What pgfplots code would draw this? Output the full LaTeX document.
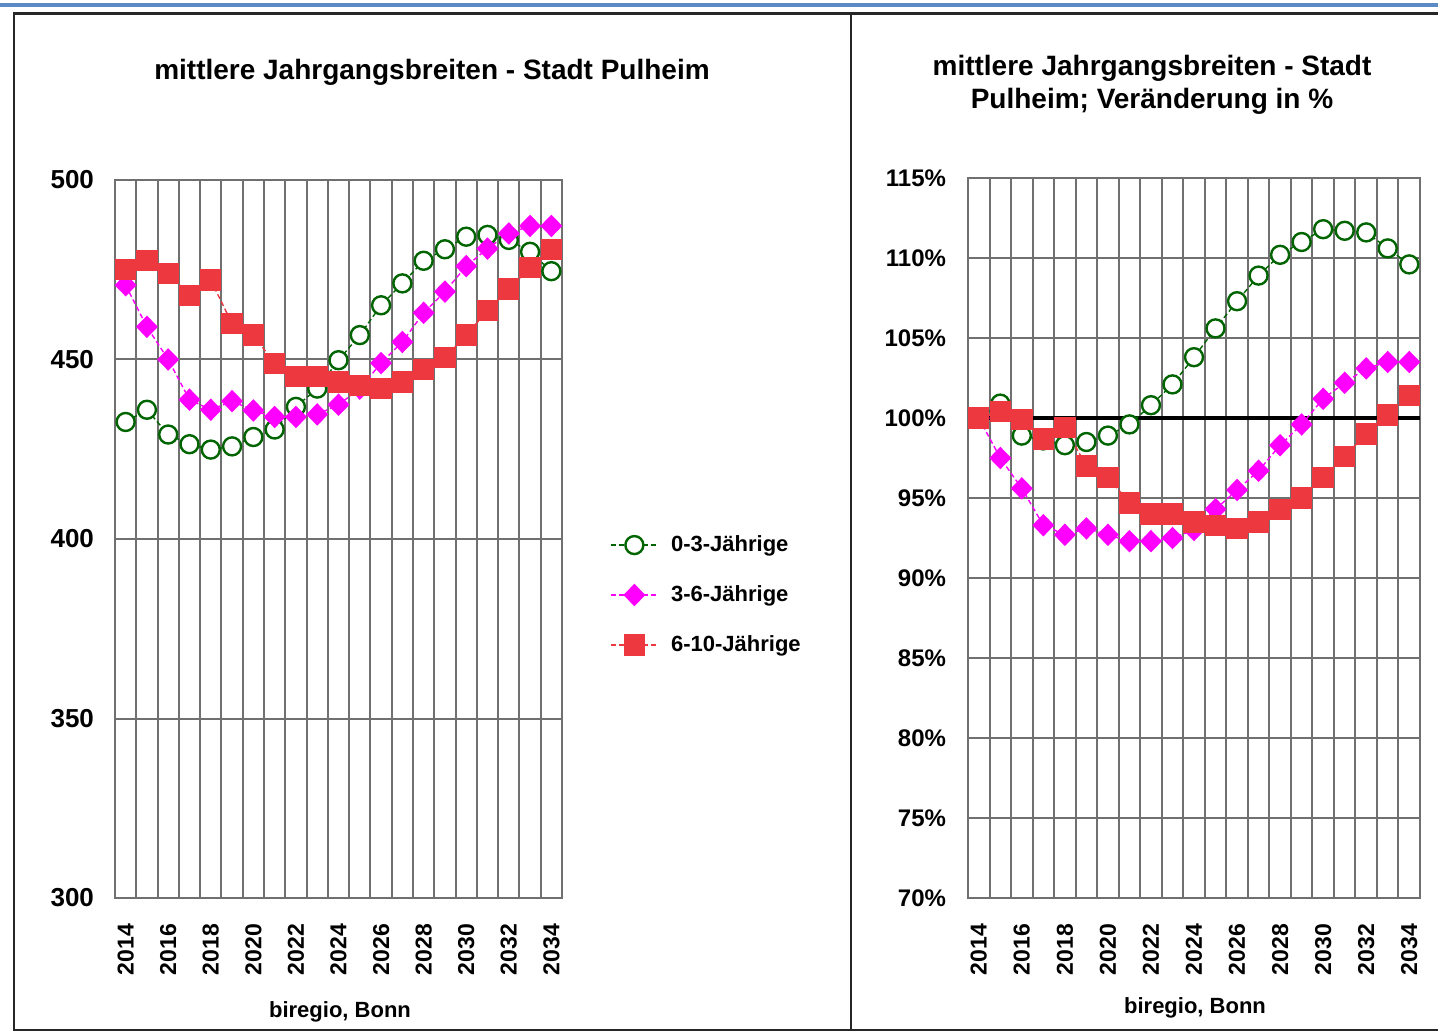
\documentclass[border=0pt]{standalone}
\usepackage{pgfplots}
\pgfplotsset{compat=1.18}
\usepackage{pgfplotstable}
\usepackage{fontspec}
\setmainfont{Liberation Sans}
\definecolor{dgreen}{RGB}{0,100,0}
\definecolor{mag}{RGB}{255,0,255}
\definecolor{sqred}{RGB}{236,56,62}
\definecolor{gridc}{RGB}{112,112,112}
\definecolor{topblue}{RGB}{91,139,198}

\pgfplotstableread{
year g m r
2014 432.6 470.7 475.1
2015 436.0 459.1 477.5
2016 429.1 450.0 474.0
2017 426.4 438.8 467.9
2018 424.9 436.0 472.1
2019 425.8 438.4 460.0
2020 428.4 435.8 456.8
2021 430.5 434.0 448.9
2022 436.8 434.0 445.3
2023 441.9 434.7 445.3
2024 449.8 437.4 443.7
2025 456.8 441.9 442.8
2026 465.1 449.0 441.9
2027 471.2 454.9 443.7
2028 477.5 463.0 447.2
2029 480.7 468.9 450.5
2030 484.2 476.0 456.8
2031 484.7 480.9 463.6
2032 483.3 485.1 469.6
2033 480.0 487.2 475.6
2034 474.6 487.2 480.7
}\leftdata

\pgfplotstableread{
year g m r
2014 100.0 100.0 100.0
2015 100.9 97.5 100.4
2016 98.9 95.6 99.9
2017 98.6 93.3 98.7
2018 98.3 92.7 99.4
2019 98.5 93.1 97.0
2020 98.9 92.7 96.3
2021 99.6 92.3 94.7
2022 100.8 92.3 94.0
2023 102.1 92.5 94.0
2024 103.8 93.0 93.5
2025 105.6 94.3 93.3
2026 107.3 95.5 93.1
2027 108.9 96.7 93.5
2028 110.2 98.3 94.3
2029 111.0 99.6 95.0
2030 111.8 101.2 96.3
2031 111.7 102.2 97.6
2032 111.6 103.1 99.0
2033 110.6 103.5 100.2
2034 109.6 103.5 101.4
}\rightdata

\pgfplotsset{
  common/.style={
    scale only axis, anchor=south west,
    xmin=2013.5, xmax=2034.5,
    xtick={2014,2016,...,2034},
    xticklabels={2014,2016,2018,2020,2022,2024,2026,2028,2030,2032,2034},
    minor xtick={2013.5,2014.5,...,2034.5},
    xmajorgrids=false, xminorgrids=true, ymajorgrids=true,
    major tick length=0pt, minor tick length=0pt,
    axis line style={gridc, line width=1pt},
    grid style={gridc, line width=1pt},
    minor grid style={gridc, line width=1pt},
    xticklabel style={rotate=90, anchor=east, font=\bfseries\fontsize{11.5}{12}\selectfont},
    xticklabel shift=9.5pt,
    clip=false,
  },
  gline/.style={dgreen, line width=0.7pt, dash pattern=on 2.5pt off 1.5pt, mark=*, mark size=4.5pt,
    mark options={solid, fill=white, draw=dgreen, line width=1.2pt}},
  mline/.style={mag, line width=0.7pt, dash pattern=on 2.5pt off 1.5pt, mark=diamond*, mark size=5.2pt,
    mark options={solid, fill=mag, draw=mag, line width=0.6pt, xscale=1.3}},
  rline/.style={sqred, line width=0.7pt, dash pattern=on 2.5pt off 1.5pt, mark=square*, mark size=5pt,
    mark options={solid, fill=sqred, draw=sqred}},
}

\begin{document}
\begin{tikzpicture}
\useasboundingbox (0,0) rectangle (719pt,516.5pt);
% frame
\draw[topblue, line width=2pt] (0,514pt) -- (719pt,514pt);
\draw[black!85, line width=1.3pt] (720pt,509.75pt) -- (7pt,509.75pt) -- (7pt,1.5pt) -- (720pt,1.5pt);
\draw[black!85, line width=1.3pt] (425.5pt,509.75pt) -- (425.5pt,1.5pt);

% left chart
\begin{axis}[common,
  at={(57.5pt,67.5pt)}, width=223.5pt, height=359pt,
  ymin=300, ymax=500, ytick={300,350,...,500},
  yticklabels={300,350,400,450,500},
  yticklabel style={font=\bfseries\fontsize{13}{14}\selectfont},
  yticklabel shift=7pt,
  legend style={at={(1.108,0.422)}, anchor=west, draw=none, fill=none, inner sep=0pt,
    font=\bfseries\fontsize{11}{12}\selectfont, row sep=11.5pt, column sep=4.5pt},
  legend cell align=left,
  legend image code/.code={\draw[mark repeat=2,mark phase=2,#1] plot coordinates {(0pt,0pt)(11.5pt,0pt)(23pt,0pt)};},
]
\addplot[gline] table[x=year,y=g]{\leftdata};
\addlegendentry{0-3-Jährige}
\addplot[mline] table[x=year,y=m]{\leftdata};
\addlegendentry{3-6-Jährige}
\addplot[rline] table[x=year,y=r]{\leftdata};
\addlegendentry{6-10-Jährige}
\end{axis}

% right chart
\begin{axis}[common,
  at={(484pt,67.5pt)}, width=226pt, height=360pt,
  ymin=70, ymax=115, ytick={70,75,...,115},
  yticklabels={70\%,75\%,80\%,85\%,90\%,95\%,100\%,105\%,110\%,115\%},
  yticklabel style={font=\bfseries\fontsize{12}{13}\selectfont},
  yticklabel shift=7.5pt,
]
\addplot[black, line width=1.8pt, forget plot] coordinates {(2013.5,100) (2034.5,100)};
\addplot[gline] table[x=year,y=g]{\rightdata};
\addplot[mline] table[x=year,y=m]{\rightdata};
\addplot[rline] table[x=year,y=r]{\rightdata};
\end{axis}

% titles and notes
\node[font=\bfseries\fontsize{14}{16}\selectfont] at (216pt,480.5pt) {mittlere Jahrgangsbreiten - Stadt Pulheim};
\node[font=\bfseries\fontsize{14}{16.5}\selectfont, align=center] at (576pt,474.25pt) {mittlere Jahrgangsbreiten - Stadt\\Pulheim; Veränderung in \%};
\node[font=\bfseries\fontsize{11}{12}\selectfont] at (170pt,10.5pt) {biregio, Bonn};
\node[font=\bfseries\fontsize{11}{12}\selectfont] at (597.5pt,12.5pt) {biregio, Bonn};
\end{tikzpicture}
\end{document}
